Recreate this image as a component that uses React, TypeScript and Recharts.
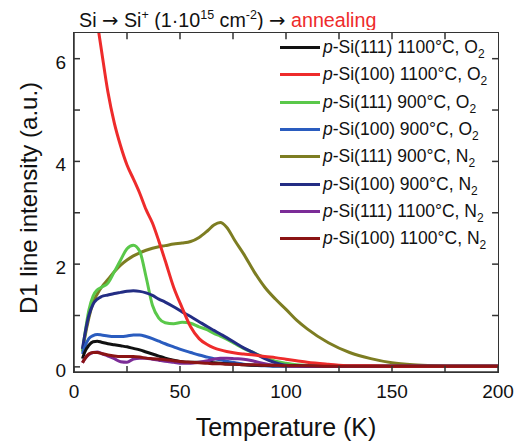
import React from "react";
import { LineChart, Line, XAxis, YAxis, Legend, ReferenceLine } from "recharts";

// Temperature grid (K) shared by all PL curves
const temperatures = [4, 5, 7, 9, 11, 13, 16, 19, 22, 25, 28, 31, 34, 37, 40, 43, 47, 51, 55, 59, 63, 66, 69, 72, 76, 80, 85, 90, 95, 100, 105, 110, 120, 130, 140, 150, 160, 170, 180, 190, 200];

const si111_1100_O2 = [0.16, 0.28, 0.42, 0.49, 0.5, 0.48, 0.45, 0.43, 0.41, 0.39, 0.36, 0.33, 0.29, 0.25, 0.21, 0.17, 0.13, 0.1, 0.09, 0.09, 0.09, 0.08, 0.07, 0.06, 0.05, 0.04, 0.03, 0.03, 0.02, 0.02, 0.02, 0.01, 0.01, 0.01, 0.01, 0.01, 0.01, 0.01, 0.01, 0.01, 0.01];
const si100_1100_O2 = [8.8, 8.5, 7.9, 7.3, 6.7, 6.15, 5.35, 4.75, 4.3, 3.93, 3.66, 3.38, 3.06, 2.8, 2.45, 2.07, 1.55, 1.15, 0.78, 0.55, 0.43, 0.37, 0.33, 0.3, 0.27, 0.25, 0.23, 0.2, 0.18, 0.15, 0.12, 0.09, 0.05, 0.02, 0.02, 0.01, 0.01, 0.01, 0.01, 0.01, 0.01];
const si111_900_O2 = [0.3, 0.6, 1.1, 1.38, 1.5, 1.55, 1.63, 1.85, 2.08, 2.3, 2.37, 2.25, 1.75, 1.2, 0.95, 0.86, 0.84, 0.87, 0.85, 0.78, 0.72, 0.65, 0.6, 0.54, 0.45, 0.36, 0.27, 0.18, 0.11, 0.07, 0.04, 0.03, 0.02, 0.01, 0.01, 0.01, 0.01, 0.01, 0.01, 0.01, 0.01];
const si100_900_O2 = [0.25, 0.38, 0.55, 0.61, 0.63, 0.62, 0.6, 0.59, 0.59, 0.6, 0.62, 0.62, 0.59, 0.55, 0.5, 0.45, 0.39, 0.33, 0.28, 0.23, 0.19, 0.16, 0.14, 0.11, 0.08, 0.05, 0.03, 0.02, 0.01, 0.01, 0.01, 0.01, 0.01, 0.01, 0.01, 0.01, 0.01, 0.01, 0.01, 0.01, 0.01];
const si111_900_N2 = [0.3, 0.55, 0.95, 1.25, 1.42, 1.55, 1.7, 1.85, 1.98, 2.08, 2.16, 2.22, 2.27, 2.31, 2.34, 2.36, 2.39, 2.41, 2.44, 2.52, 2.65, 2.76, 2.81, 2.72, 2.45, 2.2, 1.85, 1.55, 1.32, 1.12, 0.91, 0.74, 0.47, 0.28, 0.16, 0.08, 0.04, 0.02, 0.01, 0.01, 0.01];
const si100_900_N2 = [0.35, 0.6, 1.0, 1.22, 1.32, 1.37, 1.4, 1.43, 1.45, 1.47, 1.48, 1.47, 1.44, 1.39, 1.32, 1.26, 1.17, 1.07, 0.98, 0.88, 0.78, 0.71, 0.64, 0.57, 0.47, 0.37, 0.27, 0.16, 0.08, 0.03, 0.02, 0.01, 0.01, 0.01, 0.01, 0.01, 0.01, 0.01, 0.01, 0.01, 0.01];
const si111_1100_N2 = [0.08, 0.15, 0.24, 0.28, 0.29, 0.26, 0.21, 0.16, 0.1, 0.09, 0.15, 0.17, 0.17, 0.15, 0.13, 0.11, 0.09, 0.07, 0.07, 0.09, 0.12, 0.15, 0.17, 0.17, 0.16, 0.15, 0.11, 0.06, 0.03, 0.02, 0.01, 0.01, 0.01, 0.01, 0.01, 0.01, 0.01, 0.01, 0.01, 0.01, 0.01];
const si100_1100_N2 = [0.08, 0.15, 0.25, 0.28, 0.28, 0.26, 0.23, 0.21, 0.2, 0.2, 0.2, 0.19, 0.17, 0.16, 0.15, 0.14, 0.12, 0.1, 0.09, 0.08, 0.07, 0.06, 0.06, 0.05, 0.05, 0.04, 0.04, 0.03, 0.03, 0.02, 0.02, 0.02, 0.01, 0.01, 0.01, 0.01, 0.01, 0.01, 0.01, 0.01, 0.01];

const xTicks = [0, 25, 50, 75, 100, 125, 150, 175, 200];
const xLabels = [0, 50, 100, 150, 200];
const yTicks = [0, 1, 2, 3, 4, 5, 6];
const yLabels = [0, 2, 4, 6];

const X_DOMAIN: [number, number] = [0, 200];
const Y_DOMAIN: [number, number] = [-0.1, 6.5];
// inward tick length on the mirrored (top/right) edges, in data units (~6px)
const X_TICK_LEN = 2.8;
const Y_TICK_LEN = 0.12;

// legend order
const series = [
  { key: "a", face: "111", temp: "1100", gas: "O", color: "#111111", values: si111_1100_O2 },
  { key: "b", face: "100", temp: "1100", gas: "O", color: "#ee2b2b", values: si100_1100_O2 },
  { key: "c", face: "111", temp: "900", gas: "O", color: "#5ac84a", values: si111_900_O2 },
  { key: "d", face: "100", temp: "900", gas: "O", color: "#2a5cbf", values: si100_900_O2 },
  { key: "e", face: "111", temp: "900", gas: "N", color: "#7d7d22", values: si111_900_N2 },
  { key: "f", face: "100", temp: "900", gas: "N", color: "#232d84", values: si100_900_N2 },
  { key: "g", face: "111", temp: "1100", gas: "N", color: "#7b2c97", values: si111_1100_N2 },
  { key: "h", face: "100", temp: "1100", gas: "N", color: "#8b1414", values: si100_1100_N2 },
];

// z-order for drawing
const drawOrder = ["e", "c", "f", "d", "a", "g", "b", "h"];

const data = temperatures.map((t, i) => {
  const row: Record<string, number> = { t };
  series.forEach((s) => (row[s.key] = s.values[i]));
  return row;
});

const AXIS = "#333333";
const FONT = "'Liberation Sans', Arial, sans-serif";
const ARROW_FONT = "'DejaVu Sans', sans-serif";

const BottomTick = (props: any) => {
  const { x, y, payload } = props;
  return (
    <g>
      <line x1={x} y1={y} x2={x} y2={y - 6} stroke={AXIS} strokeWidth={1.5} />
      {xLabels.includes(payload.value) && (
        <text x={x} y={y + 26} textAnchor="middle" fontSize={19} fill="#111" fontFamily={FONT}>
          {payload.value}
        </text>
      )}
    </g>
  );
};

const LeftTick = (props: any) => {
  const { x, y, payload } = props;
  return (
    <g>
      <line x1={x} y1={y} x2={x + 6} y2={y} stroke={AXIS} strokeWidth={1.5} />
      {yLabels.includes(payload.value) && (
        <text x={x - 8} y={y + 10} textAnchor="end" fontSize={19} fill="#111" fontFamily={FONT}>
          {payload.value}
        </text>
      )}
    </g>
  );
};

const LegendBox = () => (
  <div style={{ fontFamily: FONT, fontSize: 17.5, color: "#111" }}>
    {series.map((s) => (
      <div key={s.key} style={{ display: "flex", alignItems: "center", height: 27.3, whiteSpace: "nowrap" }}>
        <div style={{ width: 40, height: 3, background: s.color, marginRight: 3 }} />
        <span>
          <i>p</i>-Si({s.face}) {s.temp}°C, {s.gas}
          <span style={{ fontSize: 12, position: "relative", top: 5 }}>2</span>
        </span>
      </div>
    ))}
  </div>
);

export default function App() {
  return (
    <div style={{ position: "absolute", left: 0, top: 0, width: 516, height: 443, background: "#fff", fontFamily: FONT }}>
      <svg width={516} height={30} style={{ position: "absolute", left: 0, top: 0 }}>
        <text x={79} y={26.5} fontSize={19.7} fill="#111" fontFamily={FONT}>
          Si <tspan fontFamily={ARROW_FONT}>→</tspan> Si
          <tspan fontSize={12.5} dy={-8}>+</tspan>
          <tspan dy={8}> (1·10</tspan>
          <tspan fontSize={12.5} dy={-8}>15</tspan>
          <tspan dy={8}> cm</tspan>
          <tspan fontSize={12.5} dy={-8}>-2</tspan>
          <tspan dy={8}>) </tspan>
          <tspan fontFamily={ARROW_FONT}>→</tspan>
          <tspan> </tspan>
          <tspan fill="#ee2b2b">annealing</tspan>
        </text>
      </svg>
      <LineChart width={516} height={443} data={data} margin={{ top: 33, right: 18, bottom: 0, left: 0 }}>
        <XAxis
          dataKey="t"
          type="number"
          domain={X_DOMAIN}
          ticks={xTicks}
          allowDataOverflow
          height={71}
          tickSize={0}
          tickMargin={0}
          tickLine={false}
          axisLine={{ stroke: AXIS, strokeWidth: 1.5 }}
          tick={BottomTick}
          interval={0}
          label={() => (
            <text x={286} y={436} textAnchor="middle" fontSize={25} fill="#111" fontFamily={FONT}>
              Temperature (K)
            </text>
          )}
        />
        <YAxis
          type="number"
          domain={Y_DOMAIN}
          ticks={yTicks}
          allowDataOverflow
          width={74}
          tickSize={0}
          tickMargin={0}
          tickLine={false}
          axisLine={{ stroke: AXIS, strokeWidth: 1.5 }}
          tick={LeftTick}
          interval={0}
          label={() => (
            <text
              x={37}
              y={198}
              transform="rotate(-90 37 198)"
              textAnchor="middle"
              fontSize={24}
              fill="#111"
              fontFamily={FONT}
            >
              D1 line intensity (a.u.)
            </text>
          )}
        />
        {/* mirrored ticks on top and right edges */}
        {xTicks.slice(1, -1).map((t) => (
          <ReferenceLine
            key={`tx${t}`}
            segment={[{ x: t, y: Y_DOMAIN[1] }, { x: t, y: Y_DOMAIN[1] - Y_TICK_LEN }]}
            stroke={AXIS}
            strokeWidth={1.5}
            ifOverflow="visible"
          />
        ))}
        {yTicks.map((v) => (
          <ReferenceLine
            key={`ty${v}`}
            segment={[{ x: X_DOMAIN[1], y: v }, { x: X_DOMAIN[1] - X_TICK_LEN, y: v }]}
            stroke={AXIS}
            strokeWidth={1.5}
            ifOverflow="visible"
          />
        ))}
        <Legend
          layout="vertical"
          align="center"
          verticalAlign="middle"
          wrapperStyle={{ top: 34, left: 280, width: 215 }}
          content={<LegendBox />}
        />
        {drawOrder.map((k) => {
          const s = series.find((q) => q.key === k)!;
          return (
            <Line
              key={k}
              dataKey={k}
              type="monotone"
              stroke={s.color}
              strokeWidth={3}
              dot={false}
              activeDot={false}
              isAnimationActive={false}
            />
          );
        })}
      </LineChart>
      {/* plot frame (box around the plotting area) */}
      <div
        style={{
          position: "absolute",
          left: 73.25,
          top: 32.25,
          width: 425.5,
          height: 340.5,
          boxSizing: "border-box",
          border: `1.5px solid ${AXIS}`,
          pointerEvents: "none",
        }}
      />
    </div>
  );
}
